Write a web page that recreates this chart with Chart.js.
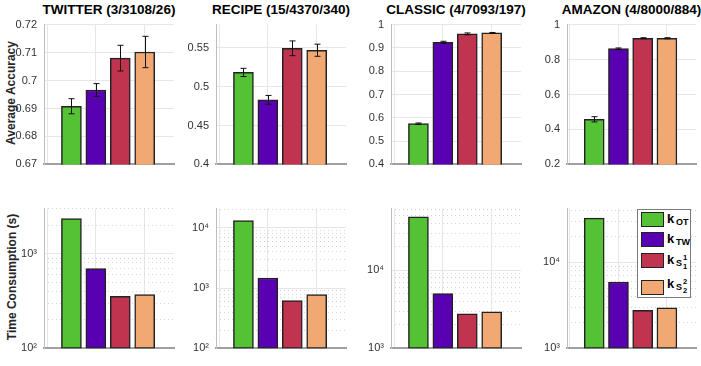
<!DOCTYPE html>
<html lang="en">
<head>
	<meta charset="UTF-8">
	<title>Accuracy and time</title>
	<style>
		body {
			margin: 0;
			width: 701px;
			height: 366px;
			background: white;
			position: relative;
			overflow: hidden;
			font-family: "Liberation Sans", Arial, sans-serif;
			color: #262626;
		}

		.panel {
			position: absolute;
		}

		.title {
			position: absolute;
			top: 2px;
			width: 160px;
			text-align: center;
			font-weight: bold;
			font-size: 13.5px;
			color: #000;
			white-space: nowrap;
		}

		.ylabel {
			position: absolute;
			width: 200px;
			text-align: center;
			font-weight: bold;
			font-size: 12px;
			transform: rotate(-90deg);
			white-space: nowrap;
		}

		#legend {
			position: absolute;
			z-index: 10;
			left: 637px;
			top: 209px;
			width: 52px;
			height: 87px;
			border: 1px solid #7a7a7a;
			background: white;
		}

		.item {
			position: absolute;
			left: 3px;
			width: 48px;
			height: 15px;
		}

		.swatch {
			position: absolute;
			left: 0;
			top: 0;
			width: 21px;
			height: 13px;
			border: 1px solid #222;
		}

		.item span {
			position: absolute;
			font-weight: bold;
			color: #000;
			white-space: nowrap;
			line-height: 1;
		}

		.k { left: 26px; top: 0; font-size: 13px; }
		.s { left: 35px; top: 6px; font-size: 9px; }
		.s2 { left: 42px; font-size: 7.5px; }
	</style>
	<script src="https://cdn.jsdelivr.net/npm/chart.js"></script>
</head>
<body>
<div class="ylabel" style="left:-89px; top:86px;">Average Accuracy</div>
<div class="ylabel" style="left:-88px; top:270px;">Time Consumption (s)</div>
<div id="legend">
	<div class="item" style="top:2px;"><div class="swatch" style="background:#55c236"></div><span class="k">k</span><span class="s">OT</span></div>
	<div class="item" style="top:22px;"><div class="swatch" style="background:#5a00b3"></div><span class="k">k</span><span class="s">TW</span></div>
	<div class="item" style="top:43px;"><div class="swatch" style="background:#c0344f"></div><span class="k">k</span><span class="s">S</span><span class="s2" style="top:1px">1</span><span class="s2" style="top:10px">1</span></div>
	<div class="item" style="top:70px;"><div class="swatch" style="background:#f2a873"></div><span class="k" style="top:-3px">k</span><span class="s" style="top:3px">S</span><span class="s2" style="top:-2px">2</span><span class="s2" style="top:7px">2</span></div>
</div>
<script>
	// methods, in bar order
	const methods = ['k_OT', 'k_TW', 'k_S1', 'k_S2'];
	const barColors = ['#55c236', '#5a00b3', '#c0344f', '#f2a873'];
	const titles = ['TWITTER (3/3108/26)', 'RECIPE (15/4370/340)', 'CLASSIC (4/7093/197)', 'AMAZON (4/8000/884)'];

	// average accuracy and error bars
	const accTwitter = [0.6908, 0.6966, 0.7080, 0.7102];
	const errTwitter = [0.0027, 0.0023, 0.0046, 0.0056];
	const accRecipe = [0.5184, 0.4831, 0.5495, 0.5470];
	const errRecipe = [0.0053, 0.0057, 0.0095, 0.0078];
	const accClassic = [0.5748, 0.9244, 0.9602, 0.9642];
	const errClassic = [0.003, 0.004, 0.004, 0.002];
	const accAmazon = [0.458, 0.8623, 0.922, 0.922];
	const errAmazon = [0.015, 0.004, 0.003, 0.003];

	// time consumption (s)
	const timeTwitter = [2350, 697, 354, 371];
	const timeRecipe = [13270, 1476, 624, 780];
	const timeClassic = [48600, 5030, 2780, 2940];
	const timeAmazon = [32600, 5900, 2760, 2950];

	// axis limits
	const accMin = [0.67, 0.4, 0.4, 0.2];
	const accMax = [0.72, 0.58, 1, 1];
	const accStep = [0.01, 0.05, 0.1, 0.2];
	const timeMin = [100, 100, 1000, 1000];
	const timeMax = [3000, 21000, 62000, 42000];

	const accData = [accTwitter, accRecipe, accClassic, accAmazon];
	const errData = [errTwitter, errRecipe, errClassic, errAmazon];
	const timeData = [timeTwitter, timeRecipe, timeClassic, timeAmazon];

	// layout of the panels (left edge of each plot area)
	const lefts = [44, 216, 391, 567];
	const widths = [130, 130, 130, 129];
	const axisW = 40;
	const pad = 8;

	Chart.defaults.font.family = '"Liberation Sans", Arial, sans-serif';
	Chart.defaults.animation = false;

	const errorBars = {
		id: 'errorBars',
		afterDatasetsDraw(chart, args, opts) {
			if (!opts.errors) return;
			const ctx = chart.ctx;
			const meta = chart.getDatasetMeta(0);
			const ys = chart.scales.y;
			ctx.save();
			ctx.strokeStyle = '#111';
			ctx.lineWidth = 1;
			meta.data.forEach((bar, i) => {
				const v = chart.data.datasets[0].data[i].y;
				const e = opts.errors[i];
				const top = ys.getPixelForValue(v + e);
				const bot = ys.getPixelForValue(v - e);
				const x = Math.round(bar.x) + 0.5;
				ctx.beginPath();
				ctx.moveTo(x, top);
				ctx.lineTo(x, bot);
				ctx.moveTo(x - 3, top);
				ctx.lineTo(x + 3, top);
				ctx.moveTo(x - 3, bot);
				ctx.lineTo(x + 3, bot);
				ctx.stroke();
			});
			ctx.restore();
		}
	};

	const supDigits = {'0': '⁰', '1': '¹', '2': '²', '3': '³', '4': '⁴', '5': '⁵', '6': '⁶'};

	function isDecade(v) {
		const l = Math.log10(v);
		return Math.abs(l - Math.round(l)) < 1e-9;
	}

	function isMinor(v) {
		const m = v / Math.pow(10, Math.floor(Math.log10(v) + 1e-9));
		return Math.abs(m - Math.round(m)) < 1e-6 && !isDecade(v);
	}

	function xScale() {
		return {
			type: 'linear',
			offset: false,
			min: -0.123,
			max: 5.2,
			ticks: {display: false, stepSize: 2, includeBounds: false},
			grid: {color: '#e6e6e6', drawTicks: false, offset: false},
			border: {display: true, color: '#a0a0a0', width: 2},
			afterFit: s => { s.height = 0; }
		};
	}

	function makePanel(top, height, i, values, yScales, errors) {
		const div = document.createElement('div');
		div.className = 'panel';
		div.style.left = (lefts[i] - axisW) + 'px';
		div.style.top = (top - pad) + 'px';
		div.style.width = (axisW + widths[i] + 2) + 'px';
		div.style.height = (height + 2 * pad) + 'px';
		const canvas = document.createElement('canvas');
		div.appendChild(canvas);
		document.body.appendChild(div);

		new Chart(canvas, {
			type: 'bar',
			data: {
				datasets: [{
					label: 'values',
					data: values.map((v, k) => ({x: k + 1, y: v})),
					backgroundColor: barColors,
					borderColor: '#222',
					borderWidth: 1.5,
					borderSkipped: false,
					barThickness: 20
				}]
			},
			options: {
				responsive: true,
				maintainAspectRatio: false,
				layout: {padding: {top: pad, bottom: pad, left: 0, right: 2}},
				plugins: {
					legend: {display: false},
					tooltip: {enabled: false},
					errorBars: {errors: errors}
				},
				scales: Object.assign({x: xScale()}, yScales)
			},
			plugins: [errorBars]
		});
	}

	// top row: accuracy
	for (let i = 0; i < 4; i++) {
		const t = document.createElement('div');
		t.className = 'title';
		t.textContent = titles[i];
		t.style.left = (lefts[i] + widths[i] / 2 - 80) + 'px';
		document.body.appendChild(t);

		makePanel(19, 151, i, accData[i], {
			y: {
				min: accMin[i],
				max: accMax[i],
				ticks: {
					stepSize: accStep[i],
					includeBounds: false,
					padding: 7,
					color: '#333',
					font: {size: 11},
					callback: v => String(+v.toFixed(4))
				},
				grid: {color: '#e6e6e6', drawTicks: false},
				border: {color: '#bdbdbd', width: 1},
				afterFit: s => { s.width = axisW; }
			}
		}, errData[i]);
	}

	// bottom row: time consumption, log scale
	for (let i = 0; i < 4; i++) {
		makePanel(203, 151, i, timeData[i], {
			y: {
				type: 'logarithmic',
				min: timeMin[i],
				max: timeMax[i],
				afterBuildTicks: s => { s.ticks = s.ticks.filter(t => isDecade(t.value)); },
				ticks: {
					padding: 7,
					color: '#333',
					font: {size: 11},
					callback: v => '10' + supDigits[String(Math.round(Math.log10(v)))]
				},
				grid: {color: '#e6e6e6', drawTicks: false},
				border: {color: '#bdbdbd', width: 1},
				afterFit: s => { s.width = axisW; }
			},
			y2: {
				type: 'logarithmic',
				position: 'left',
				min: timeMin[i],
				max: timeMax[i],
				afterBuildTicks: s => { s.ticks = s.ticks.filter(t => isMinor(t.value)); },
				ticks: {display: false},
				grid: {color: '#d4d4d4', drawTicks: false},
				border: {display: false, dash: [1, 3]},
				afterFit: s => { s.width = 0; }
			}
		}, null);
	}
</script>
</body>
</html>
